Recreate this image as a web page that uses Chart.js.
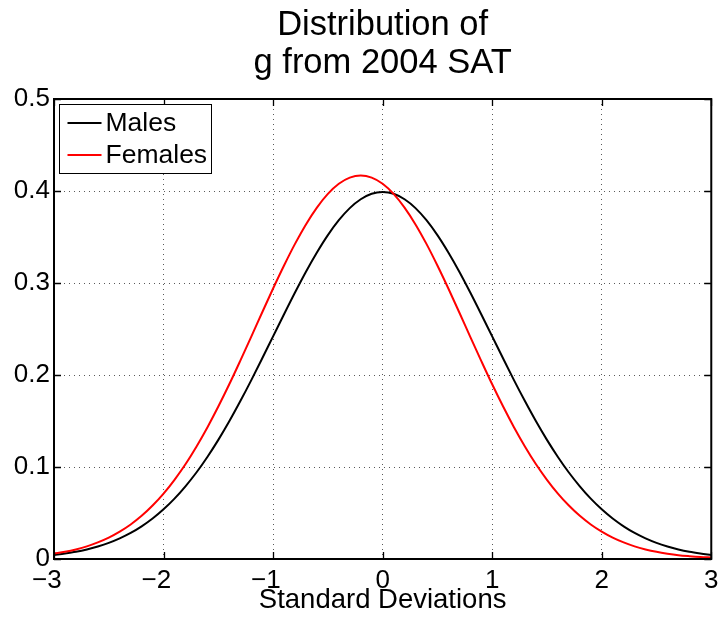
<!DOCTYPE html>
<html><head><meta charset="utf-8">
<script src="https://cdn.jsdelivr.net/npm/chart.js@4.4.0/dist/chart.umd.min.js"></script>
<style>html,body{margin:0;padding:0;background:#fff}#wrap{width:727px;height:620px}</style>
</head><body><div id="wrap"><canvas id="c" width="727" height="620"></canvas></div>
<script>
const titleLines = ['Distribution of', 'g from 2004 SAT'];
const xLabel = 'Standard Deviations';
const seriesNames = ['Males', 'Females'];
const seriesColors = ['#000000', '#ff0000'];
const xs = [-3.0,-2.9,-2.8,-2.7,-2.6,-2.5,-2.4,-2.3,-2.2,-2.1,-2.0,-1.9,-1.8,-1.7,-1.6,-1.5,-1.4,-1.3,-1.2,-1.1,-1.0,-0.9,-0.8,-0.7,-0.6,-0.5,-0.4,-0.3,-0.2,-0.1,0.0,0.1,0.2,0.3,0.4,0.5,0.6,0.7,0.8,0.9,1.0,1.1,1.2,1.3,1.4,1.5,1.6,1.7,1.8,1.9,2.0,2.1,2.2,2.3,2.4,2.5,2.6,2.7,2.8,2.9,3.0];
const males = [0.0044,0.0060,0.0079,0.0104,0.0136,0.0175,0.0224,0.0283,0.0355,0.0440,0.0540,0.0656,0.0790,0.0940,0.1109,0.1295,0.1497,0.1714,0.1942,0.2179,0.2420,0.2661,0.2897,0.3123,0.3332,0.3521,0.3683,0.3814,0.3910,0.3970,0.3989,0.3970,0.3910,0.3814,0.3683,0.3521,0.3332,0.3123,0.2897,0.2661,0.2420,0.2179,0.1942,0.1714,0.1497,0.1295,0.1109,0.0940,0.0790,0.0656,0.0540,0.0440,0.0355,0.0283,0.0224,0.0175,0.0136,0.0104,0.0079,0.0060,0.0044];
const females = [0.0058,0.0078,0.0104,0.0137,0.0180,0.0232,0.0297,0.0375,0.0469,0.0581,0.0711,0.0861,0.1030,0.1221,0.1430,0.1657,0.1899,0.2154,0.2415,0.2679,0.2940,0.3190,0.3425,0.3637,0.3820,0.3969,0.4079,0.4146,0.4169,0.4146,0.4079,0.3969,0.3820,0.3637,0.3425,0.3190,0.2940,0.2679,0.2415,0.2154,0.1899,0.1657,0.1430,0.1221,0.1030,0.0861,0.0711,0.0581,0.0469,0.0375,0.0297,0.0232,0.0180,0.0137,0.0104,0.0078,0.0058,0.0042,0.0031,0.0022,0.0016];
const xTicks = [-3, -2, -1, 0, 1, 2, 3];
const yTicks = [0, 0.1, 0.2, 0.3, 0.4, 0.5];

const FONT = '"Liberation Sans", Arial, Helvetica, sans-serif';

const framePlugin = {
  id: 'frame',
  afterLayout(chart) {
    if (chart.titleBlock) {
      chart.titleBlock.left = chart.chartArea.left;
      chart.titleBlock.right = chart.chartArea.right;
    }
  },
  afterDatasetsDraw(chart) {
    const {ctx, chartArea: a, scales} = chart;
    ctx.save();
    ctx.strokeStyle = '#000';
    ctx.lineWidth = 1.3;
    const tl = 7;
    ctx.beginPath();
    xTicks.forEach(v => {
      const px = Math.round(scales.x.getPixelForValue(v)) + 0.5;
      ctx.moveTo(px, a.bottom); ctx.lineTo(px, a.bottom - tl);
      ctx.moveTo(px, a.top); ctx.lineTo(px, a.top + tl);
    });
    yTicks.forEach(v => {
      const py = Math.round(scales.y.getPixelForValue(v)) + 0.5;
      ctx.moveTo(a.left, py); ctx.lineTo(a.left + tl, py);
      ctx.moveTo(a.right, py); ctx.lineTo(a.right - tl, py);
    });
    ctx.stroke();
    ctx.lineWidth = 2;
    ctx.strokeRect(a.left, a.top, a.right - a.left, a.bottom - a.top);
    ctx.restore();
  },
  afterDraw(chart) {
    const {ctx, chartArea: a} = chart;
    const bx = a.left + 5.5, by = a.top + 5.5, bw = 152, bh = 69;
    ctx.save();
    ctx.fillStyle = '#fff';
    ctx.fillRect(bx, by, bw, bh);
    ctx.strokeStyle = '#000';
    ctx.lineWidth = 1;
    ctx.strokeRect(bx, by, bw, bh);
    ctx.font = '26.5px ' + FONT;
    ctx.textBaseline = 'middle';
    ctx.textAlign = 'left';
    const rows = [by + 18.5, by + 50.5];
    seriesNames.forEach((name, i) => {
      const ds = chart.data.datasets.find(d => d.label === name);
      ctx.strokeStyle = ds.borderColor;
      ctx.lineWidth = 2;
      ctx.beginPath();
      ctx.moveTo(bx + 8, rows[i]); ctx.lineTo(bx + 42, rows[i]);
      ctx.stroke();
      ctx.fillStyle = '#000';
      ctx.fillText(name, bx + 46, rows[i] + 1);
    });
    ctx.restore();
  }
};

new Chart(document.getElementById('c'), {
  type: 'line',
  data: {
    datasets: [
      { label: seriesNames[0], data: xs.map((x, i) => ({x, y: males[i]})), borderColor: seriesColors[0], borderWidth: 2, pointRadius: 0, cubicInterpolationMode: 'monotone', fill: false, order: 2 },
      { label: seriesNames[1], data: xs.map((x, i) => ({x, y: females[i]})), borderColor: seriesColors[1], borderWidth: 2, pointRadius: 0, cubicInterpolationMode: 'monotone', fill: false, order: 1 }
    ]
  },
  options: {
    responsive: false,
    devicePixelRatio: 1,
    animation: false,
    layout: { padding: { left: 0, right: 11, top: 0, bottom: 0 } },
    plugins: {
      legend: { display: false },
      tooltip: { enabled: false },
      title: {
        display: true,
        text: titleLines,
        color: '#000',
        font: { family: FONT, size: 34.5, weight: 'normal', lineHeight: 1.1 },
        padding: { top: 6.5, bottom: 16.6 }
      }
    },
    scales: {
      x: {
        type: 'linear', min: -3, max: 3,
        afterBuildTicks: s => { s.ticks = xTicks.map(v => ({value: v})); },
        afterFit: s => { s.height = 61; },
        grid: { display: true, color: 'rgba(0,0,0,0.65)', lineWidth: 1, drawTicks: false },
        border: { display: false, dash: [1, 4] },
        ticks: {
          autoSkip: false, maxRotation: 0, padding: 8.5, color: '#000',
          font: { family: FONT, size: 26, lineHeight: 1 },
          callback: v => v < 0 ? '\u2212' + Math.abs(v) + '\u2007' : String(v)
        },
        title: { display: true, text: xLabel, color: '#000', font: { family: FONT, size: 27.5, lineHeight: 1.2 }, padding: { top: 0, bottom: 3 } }
      },
      y: {
        type: 'linear', min: 0, max: 0.5,
        afterBuildTicks: s => { s.ticks = yTicks.map(v => ({value: v})); },
        afterFit: s => { s.width = 54; },
        grid: { display: true, color: 'rgba(0,0,0,0.65)', lineWidth: 1, drawTicks: false },
        border: { display: false, dash: [1, 4] },
        ticks: {
          padding: 4, color: '#000',
          font: { family: FONT, size: 26, lineHeight: 1 },
          callback: v => String(Math.round(v * 10) / 10)
        }
      }
    }
  },
  plugins: [framePlugin]
});
</script>
</body></html>
